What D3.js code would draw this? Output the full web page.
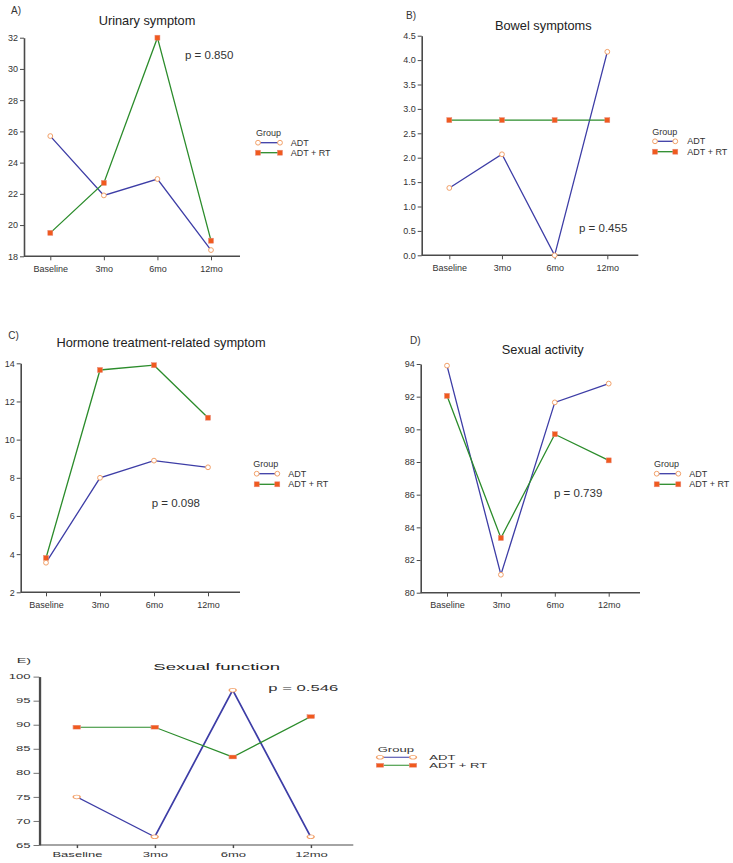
<!DOCTYPE html>
<html>
<head>
<meta charset="utf-8">
<script src="https://cdn.jsdelivr.net/npm/d3@7"></script>
<style>
  html, body { margin: 0; padding: 0; background: #fff; }
  svg text { font-family: "Liberation Sans", Arial, sans-serif; }
</style>
</head>
<body>
<svg id="chart" width="733" height="863"></svg>
<script>
// ---------------- DATA ----------------
const categories = ["Baseline", "3mo", "6mo", "12mo"];
const groups = ["ADT", "ADT + RT"];

const urinaryADT   = [25.7, 21.9, 22.95, 18.4];
const urinaryADTRT = [19.5, 22.7, 32.0, 19.0];
const urinaryTicks = [18, 20, 22, 24, 26, 28, 30, 32];

const bowelADT   = [1.38, 2.07, 0.0, 4.17];
const bowelADTRT = [2.77, 2.77, 2.77, 2.77];
const bowelTicks = [0, 0.5, 1, 1.5, 2, 2.5, 3, 3.5, 4, 4.5];

const hormoneADT   = [3.55, 8.0, 8.9, 8.55];
const hormoneADTRT = [3.8, 13.65, 13.9, 11.15];
const hormoneTicks = [2, 4, 6, 8, 10, 12, 14];

const activityADT   = [93.9, 81.1, 91.65, 92.8];
const activityADTRT = [92.05, 83.35, 89.7, 88.1];
const activityTicks = [80, 82, 84, 86, 88, 90, 92, 94];

const functionADT   = [75.0, 66.7, 97.2, 66.7];
const functionADTRT = [89.5, 89.5, 83.3, 91.7];
const functionTicks = [65, 70, 75, 80, 85, 90, 95, 100];

const panelLabels = ["A)", "B)", "C)", "D)", "E)"];
const panelTitles = ["Urinary symptom", "Bowel symptoms", "Hormone treatment-related symptom", "Sexual activity", "Sexual function"];
const pValues = ["p = 0.850", "p = 0.455", "p = 0.098", "p = 0.739", "p = 0.546"];

// ---------------- STYLE ----------------
const BLUE = "#3d3da6", GREEN = "#2b8c2b";
const CIRCLE_STROKE = "#f2a068", SQUARE_FILL = "#f05a1e", SQUARE_STROKE = "#e8897a";
const AXIS = "#4a4a4a";

const svg = d3.select("#chart");

function drawPanel(cfg) {
  const sx = cfg.sx || 1, sy = cfg.sy || 1;
  const X = v => v / sx, Y = v => v / sy;
  const g = svg.append("g").attr("transform", `scale(${sx},${sy})`);

  const x = d3.scalePoint().domain(categories).range([X(cfg.cx0), X(cfg.cx1)]);
  const y = d3.scaleLinear().domain(cfg.domain).range([Y(cfg.yBottom), Y(cfg.yTop)]);

  // y axis
  const ya = g.append("g")
    .attr("transform", `translate(${X(cfg.axisX)},0)`)
    .call(d3.axisLeft(y).tickValues(cfg.ticks).tickFormat(cfg.fmt || d3.format("d"))
      .tickSize(4).tickPadding(2).tickSizeOuter(0));
  ya.select(".domain").attr("stroke", AXIS).attr("stroke-width", 1.6);
  ya.selectAll(".tick line").attr("stroke", AXIS).attr("stroke-width", 1);
  ya.selectAll(".tick text").attr("fill", "#333").style("font-size", "9px");

  // x axis
  const xa = g.append("g")
    .attr("transform", `translate(0,${Y(cfg.yBottom)})`)
    .call(d3.axisBottom(x).tickSize(4).tickPadding(5).tickSizeOuter(0));
  xa.select(".domain").remove();
  xa.selectAll(".tick line").attr("stroke", AXIS).attr("stroke-width", 1);
  xa.selectAll(".tick text").attr("fill", "#333").style("font-size", "9px");
  g.append("line")
    .attr("x1", X(cfg.axisX)).attr("x2", X(cfg.xEnd))
    .attr("y1", Y(cfg.yBottom)).attr("y2", Y(cfg.yBottom))
    .attr("stroke", AXIS).attr("stroke-width", 1.6);

  // lines
  const line = d3.line().x((d, i) => x(categories[i])).y(d => y(d));
  g.append("path").datum(cfg.adt).attr("d", line)
    .attr("fill", "none").attr("stroke", BLUE).attr("stroke-width", 1.3);
  g.append("path").datum(cfg.adtrt).attr("d", line)
    .attr("fill", "none").attr("stroke", GREEN).attr("stroke-width", 1.3);

  // markers
  const sq = 5;
  g.selectAll(null).data(cfg.adtrt).enter().append("rect")
    .attr("x", (d, i) => x(categories[i]) - sq / 2)
    .attr("y", d => y(d) - sq / 2)
    .attr("width", sq).attr("height", sq)
    .attr("fill", SQUARE_FILL).attr("stroke", SQUARE_STROKE).attr("stroke-width", 0.5);
  g.selectAll(null).data(cfg.adt).enter().append("circle")
    .attr("cx", (d, i) => x(categories[i]))
    .attr("cy", d => y(d))
    .attr("r", 2.4)
    .attr("fill", "#fff").attr("stroke", CIRCLE_STROKE).attr("stroke-width", 1);

  // panel label
  g.append("text").attr("x", X(cfg.label[0])).attr("y", Y(cfg.label[1]))
    .attr("fill", "#333").style("font-size", "10px").text(cfg.labelText);
  // title
  g.append("text").attr("x", X(cfg.title[0])).attr("y", Y(cfg.title[1]))
    .attr("text-anchor", "middle").attr("fill", "#222").style("font-size", "12.8px")
    .text(cfg.titleText);
  // p value
  g.append("text").attr("x", X(cfg.p[0])).attr("y", Y(cfg.p[1]))
    .attr("fill", "#333").style("font-size", "11.5px").text(cfg.pText);

  // legend
  const L = cfg.legend;
  g.append("text").attr("x", X(L.x)).attr("y", Y(L.gy))
    .attr("fill", "#333").style("font-size", "9px").text("Group");
  const rows = [L.r1, L.r2];
  groups.forEach((name, k) => {
    const ry = Y(rows[k]);
    g.append("line").attr("x1", X(L.l0)).attr("x2", X(L.l1)).attr("y1", ry).attr("y2", ry)
      .attr("stroke", k === 0 ? BLUE : GREEN).attr("stroke-width", 1.3);
    [X(L.l0), X(L.l1)].forEach(px => {
      if (k === 0) {
        g.append("circle").attr("cx", px).attr("cy", ry).attr("r", 2.4)
          .attr("fill", "#fff").attr("stroke", CIRCLE_STROKE).attr("stroke-width", 1);
      } else {
        g.append("rect").attr("x", px - sq / 2).attr("y", ry - sq / 2)
          .attr("width", sq).attr("height", sq)
          .attr("fill", SQUARE_FILL).attr("stroke", SQUARE_STROKE).attr("stroke-width", 0.5);
      }
    });
    g.append("text").attr("x", X(L.tx)).attr("y", ry).attr("dy", "0.35em")
      .attr("fill", "#333").style("font-size", "9px").text(name);
  });
}

drawPanel({
  adt: urinaryADT, adtrt: urinaryADTRT, ticks: urinaryTicks, domain: [18, 32],
  axisX: 24, xEnd: 240, yBottom: 256.3, yTop: 37.7, cx0: 50.3, cx1: 211,
  label: [11, 13.5], labelText: panelLabels[0],
  title: [147, 25], titleText: panelTitles[0],
  p: [185, 59.3], pText: pValues[0],
  legend: { x: 256, gy: 135.5, r1: 142.7, r2: 152.7, l0: 258, l1: 280, tx: 290.7 }
});

drawPanel({
  adt: bowelADT, adtrt: bowelADTRT, ticks: bowelTicks, domain: [0, 4.5], fmt: d3.format(".1f"),
  axisX: 421.7, xEnd: 638.3, yBottom: 255.3, yTop: 35.7, cx0: 449.3, cx1: 607.3,
  label: [406, 19.3], labelText: panelLabels[1],
  title: [543.3, 30], titleText: panelTitles[1],
  p: [579, 231.7], pText: pValues[1],
  legend: { x: 652.3, gy: 134.5, r1: 141.3, r2: 151.7, l0: 655, l1: 675.3, tx: 687.3 }
});

drawPanel({
  adt: hormoneADT, adtrt: hormoneADTRT, ticks: hormoneTicks, domain: [2, 14],
  axisX: 20.7, xEnd: 240, yBottom: 592.3, yTop: 363.3, cx0: 46, cx1: 208,
  label: [8.3, 339], labelText: panelLabels[2],
  title: [161, 346.7], titleText: panelTitles[2],
  p: [151.7, 507.3], pText: pValues[2],
  legend: { x: 253.3, gy: 466.5, r1: 473.7, r2: 484.3, l0: 256.7, l1: 277.3, tx: 288.3 }
});

drawPanel({
  adt: activityADT, adtrt: activityADTRT, ticks: activityTicks, domain: [80, 94],
  axisX: 420.7, xEnd: 640, yBottom: 592.7, yTop: 364, cx0: 447, cx1: 608.7,
  label: [410, 344], labelText: panelLabels[3],
  title: [542.7, 354.3], titleText: panelTitles[3],
  p: [554, 497.3], pText: pValues[3],
  legend: { x: 654, gy: 467, r1: 473.7, r2: 484.3, l0: 656.7, l1: 678.3, tx: 689.3 }
});

drawPanel({
  sx: 1.45, sy: 0.77,
  adt: functionADT, adtrt: functionADTRT, ticks: functionTicks, domain: [65, 100],
  axisX: 39.3, xEnd: 353.3, yBottom: 845, yTop: 676.7, cx0: 76.7, cx1: 310.7,
  label: [16.7, 662.7], labelText: panelLabels[4],
  title: [216.7, 670], titleText: panelTitles[4],
  p: [268.3, 691], pText: pValues[4],
  legend: { x: 377.7, gy: 752, r1: 757.3, r2: 765.3, l0: 380, l1: 413, tx: 429.3 }
});
</script>
</body>
</html>
